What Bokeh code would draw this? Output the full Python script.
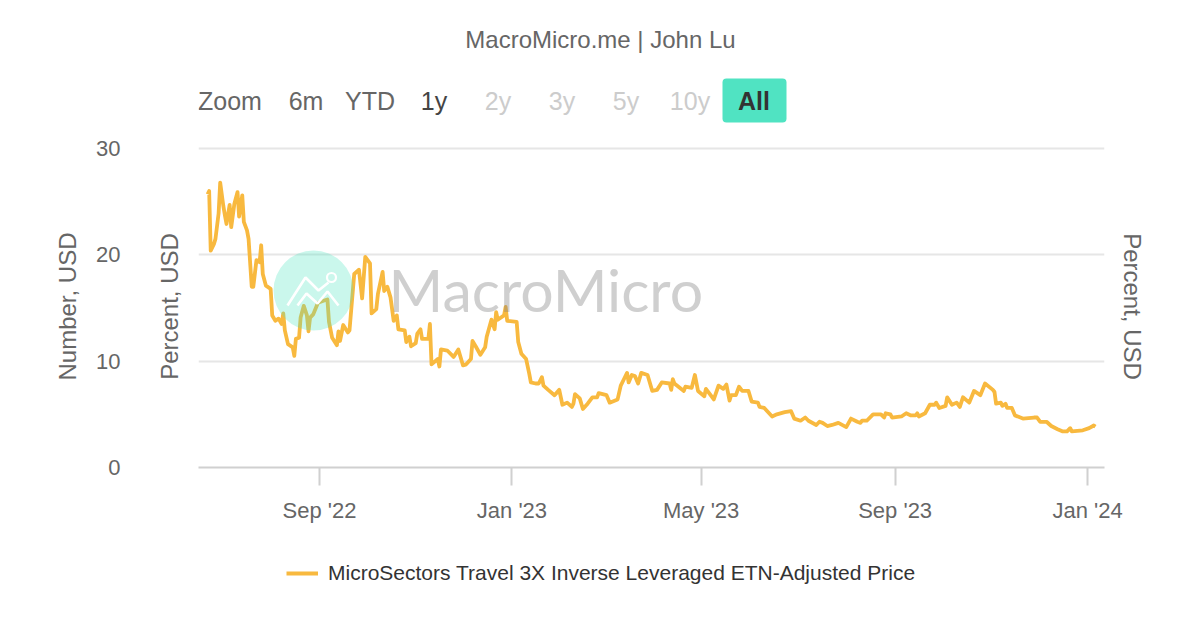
from datetime import datetime, timedelta
from bokeh.plotting import figure
from bokeh.layouts import column
from bokeh.core.properties import value
from bokeh.models import (Range1d, FixedTicker, Label, BoxAnnotation, Legend, LegendItem, LinearAxis)
from bokeh.embed import file_html
from bokeh.resources import INLINE

START = datetime(2022, 6, 22)
# trading-day offsets from START and adjusted price in USD
days = [0,1,2,4,5,7,8,10,11,12,14,15,17,19,20,22,23,25,26,28,29,31,33,34,35,37,40,41,43,45,47,48,49,51,54,55,56,58,59,61,63,64,65,67,70,74,76,77,79,82,83,84,86,89,90,93,96,98,100,103,104,
 107,108,111,112,114,116,118,120,121,125,126,128,129,132,133,135,136,140,141,142,146,147,148,152,156,159,162,164,167,168,170,173,176,177,180,182,183,184,188,189,190,196,197,199,202,204,205,208,210,212,213,216,220,223,225,228,231,232,233,236,238,241,244,247,248,253,255,
 260,262,264,266,267,269,271,273,275,279,282,285,288,293,294,295,296,302,303,307,309,311,315,316,319,321,324,327,329,331,332,335,337,339,343,345,349,350,353,358,361,366,370,372,376,379,381,386,388,390,393,396,400,405,408,412,
 414,415,418,422,427,429,430,433,434,440,443,446,449,450,451,455,458,461,462,464,468,469,472,475,477,479,483,486,490,493,498,499,500,503,504,506,507,510,512,517,524,526,528,532,535,539,542,545,547,548,555,559,562,563]
price = [25.7,26.0,20.4,21.0,21.5,23.9,26.8,24.6,23.7,22.9,24.7,22.6,24.8,25.9,23.6,25.6,23.1,22.3,21.5,17.0,17.0,19.5,19.3,20.9,18.2,17.1,16.8,14.3,13.8,14.0,13.5,14.5,12.9,11.6,11.3,10.5,12.1,12.2,14.1,15.2,14.3,12.8,14.1,14.4,15.5,15.7,15.8,13.7,12.2,11.5,12.8,11.9,13.4,12.7,12.9,18.2,18.6,15.9,19.8,19.2,14.5,
 14.9,16.3,18.4,16.6,17.0,16.0,13.8,14.3,13.0,12.9,11.8,12.3,11.4,11.7,12.6,13.0,12.1,12.1,13.5,9.7,10.2,9.5,11.1,11.0,10.4,11.1,9.6,9.7,10.2,11.9,11.4,10.6,11.3,12.3,13.9,13.0,14.6,13.9,14.3,15.1,13.8,13.7,11.8,10.7,10.2,8.8,8.0,7.9,7.9,8.5,7.7,7.3,6.8,7.3,5.9,6.1,5.7,6.0,6.9,6.5,5.5,6.0,6.6,6.6,7.0,6.8,6.1,
 6.4,7.7,8.3,8.9,8.0,8.7,8.6,7.9,8.9,8.7,7.2,7.3,8.0,7.9,7.3,8.3,7.9,7.2,7.6,7.5,8.7,7.2,6.7,7.4,6.8,6.4,7.7,7.4,7.8,6.3,6.8,6.8,7.6,7.2,7.2,6.2,6.1,5.7,5.6,4.8,5.0,5.2,5.3,4.6,4.4,4.7,4.4,4.0,4.3,4.2,3.9,4.0,4.2,3.8,4.6,4.3,
 4.2,4.4,4.4,5.0,5.0,4.7,5.1,5.0,4.7,4.8,5.1,4.9,4.9,5.1,4.8,5.1,5.9,5.9,6.1,5.6,5.8,6.6,5.9,6.1,5.7,6.6,6.1,7.2,6.8,7.9,7.3,7.1,6.0,6.1,5.8,6.0,5.6,5.6,4.9,4.6,4.7,4.7,4.3,4.3,3.9,3.6,3.4,3.4,3.7,3.4,3.5,3.7,3.95,3.85]
tick_dates = ["2022-09-01", "2023-01-01", "2023-05-01", "2023-09-01", "2024-01-01"]
tick_labels = ["Sep '22", "Jan '23", "May '23", "Sep '23", "Jan '24"]
y_ticks = [0, 10, 20, 30]
range_buttons = ["6m", "YTD", "1y", "2y", "3y", "5y", "10y", "All"]
series_name = "MicroSectors Travel 3X Inverse Leveraged ETN-Adjusted Price"

FONT = "Liberation Sans"
W = 1184
TOP, MID, BOT = 130, 400, 84
LINE_COLOR = "#f8b93f"
def to_ms(d):
    return d.timestamp() * 1000
dates = [START + timedelta(days=d) for d in days]
ticks_ms = [to_ms(datetime.fromisoformat(t)) for t in tick_dates]
x0 = datetime(2022, 6, 16, 6)
x1 = datetime(2024, 1, 11, 18)

# header strip: title and range selector (frames of a column line up, so it spans 198..1104)
top = figure(width=W, height=TOP, output_backend="svg", toolbar_location=None,
             x_range=Range1d(198, 1104), y_range=Range1d(TOP, 0), x_axis_location=None, y_axis_location=None,
             min_border=0, outline_line_color=None)
top.grid.visible = False

def lab(text, px, py, size, color="#666666", align="center", style="normal"):
    top.add_layout(Label(x=px, y=py, text=text,
                         text_font=FONT, text_font_size=f"{size}px", text_color=color, text_align=align,
                         text_baseline="middle", text_font_style=style))

lab("MacroMicro.me | John Lu", 600, 39, 24)
lab("Zoom", 197.5, 100, 25, align="left")
btn_x = [306, 370, 434, 498, 562, 626, 690, 754]
btn_c = ["#666666", "#666666", "#444444", "#cccccc", "#cccccc", "#cccccc", "#cccccc", "#333333"]
top.add_layout(BoxAnnotation(left=722, right=786, top=78, bottom=122, level="underlay",
                             fill_color="#50e3c2", fill_alpha=1, line_color=None, border_radius=4))
for b, x, c in zip(range_buttons, btn_x, btn_c):
    lab(b, x - 0.5, 100, 25, color=c, style="bold" if b == "All" else "normal")

p = figure(width=W, height=MID, output_backend="svg", toolbar_location=None,
           x_axis_type="datetime", x_range=Range1d(x0, x1), y_range=Range1d(0, 30.283),
           min_border_left=198, min_border_right=80, min_border_top=145 - TOP, min_border_bottom=TOP + MID - 467,
           outline_line_color=None)
p.extra_x_ranges["px"] = Range1d(198, 1104)
p.extra_y_ranges["px"] = Range1d(467, 145)

p.xgrid.visible = False
p.ygrid.grid_line_color = "#e6e6e6"
p.ygrid.grid_line_width = 2
p.ygrid.ticker = FixedTicker(ticks=y_ticks)

def title_style(a):
    a.axis_label_text_font = FONT
    a.axis_label_text_font_size = "24px"
    a.axis_label_text_font_style = "normal"
    a.axis_label_text_color = "#666666"

# the axis next to the frame carries only its title
ax = p.yaxis[0]
ax.ticker = FixedTicker(ticks=[])
ax.axis_line_color = None
ax.major_tick_line_color = None
ax.minor_tick_line_color = None
ax.major_label_text_font_size = "0px"
ax.major_label_standoff = 0
ax.axis_label = "Percent, USD"
ax.axis_label_standoff = 16
title_style(ax)

out = LinearAxis(axis_label="Number, USD", ticker=FixedTicker(ticks=y_ticks))
out.axis_line_color = None
out.major_tick_line_color = None
out.minor_tick_line_color = None
out.major_label_standoff = 26
out.major_label_text_font = FONT
out.major_label_text_font_size = "22px"
out.major_label_text_color = "#666666"
out.axis_label_standoff = 12
title_style(out)
p.add_layout(out, "left")

r = LinearAxis(axis_label="Percent, USD", ticker=FixedTicker(ticks=[]))
r.axis_line_color = None
r.major_tick_line_color = None
r.minor_tick_line_color = None
r.major_label_text_font_size = "0px"
r.major_label_standoff = 0
r.axis_label_standoff = 14
title_style(r)
p.add_layout(r, "right")

xa = p.xaxis[0]
xa.ticker = FixedTicker(ticks=ticks_ms)
xa.major_label_overrides = dict(zip(ticks_ms, tick_labels))
xa.axis_line_color = "#d0d0d0"
xa.axis_line_width = 2
xa.major_tick_line_color = "#d0d0d0"
xa.major_tick_line_width = 2
xa.major_tick_in = 0
xa.major_tick_out = 18
xa.minor_tick_line_color = None
xa.major_label_standoff = 12
xa.major_label_text_font = FONT
xa.major_label_text_font_size = "22px"
xa.major_label_text_color = "#666666"

p.line(dates, price, line_color=LINE_COLOR, line_width=3.8, line_join="round")

# watermark, over the line
p.scatter([313], [290], size=80, marker="circle", fill_color="#4fe3c1", fill_alpha=0.3, line_color=None,
          x_range_name="px", y_range_name="px")
p.line([287, 305, 318, 328], [305, 277, 290, 282], line_color="#ffffff", line_width=2.6, x_range_name="px", y_range_name="px")
p.line([297, 306, 317, 327, 338], [305, 293, 303, 291, 305], line_color="#ffffff", line_width=2.6, x_range_name="px", y_range_name="px")
p.scatter([331], [277], size=9, marker="circle", fill_color=None, line_color="#ffffff", line_width=2.2,
          x_range_name="px", y_range_name="px")
p.text([388], [289], text=["MacroMicro"], text_font=value("Lato"), text_font_size="59px", text_color="#808080", text_alpha=0.38,
       text_align="left", text_baseline="middle", x_range_name="px", y_range_name="px")

# footer strip: the legend; its line lies outside the visible range, only the swatch shows
bot = figure(width=W, height=BOT, output_backend="svg", toolbar_location=None,
             x_range=Range1d(198, 1104), y_range=Range1d(BOT, 0), x_axis_location=None, y_axis_location=None,
             min_border=0, outline_line_color=None)
bot.grid.visible = False
swatch = bot.line([0, 1], [-50, -50], line_color=LINE_COLOR, line_width=3.8)
leg = Legend(items=[LegendItem(label=series_name, renderers=[swatch])], location=(88, 29),
             border_line_color=None, background_fill_alpha=0, glyph_width=32, glyph_height=20,
             label_text_font=FONT, label_text_font_size="21px", label_text_color="#333333",
             label_standoff=10, margin=0, padding=0)
bot.add_layout(leg, "center")

open("out.html", "w").write(file_html(column(top, p, bot, spacing=0), INLINE))
